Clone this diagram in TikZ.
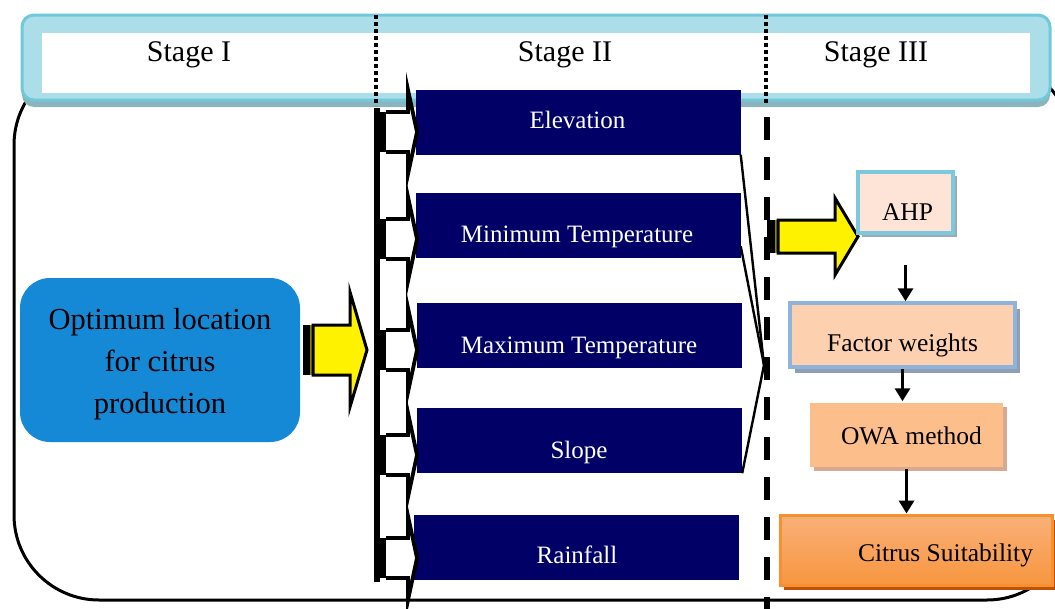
\documentclass[tikz,border=0pt]{standalone}
\usepackage{fontspec}
\setmainfont{Liberation Serif}
\usetikzlibrary{arrows.meta,calc,shadows}
\definecolor{navy}{HTML}{000066}
\definecolor{hdrfill}{HTML}{ABDEE8}
\definecolor{hdrline}{HTML}{70C9D9}
\definecolor{hdrshadow}{HTML}{8CB4BD}
\definecolor{optblue}{HTML}{1589D6}
\definecolor{ahpfill}{HTML}{FDE4D6}
\definecolor{ahpline}{HTML}{7CC8DC}
\definecolor{ahpshadow}{HTML}{9EA9B3}
\definecolor{fwfill}{HTML}{FDD0B0}
\definecolor{fwline}{HTML}{8FB4DC}
\definecolor{fwshadow}{HTML}{8E9FB5}
\definecolor{owafill}{HTML}{FCBF8C}
\definecolor{owashadow}{HTML}{D8A98E}
\definecolor{cstop}{HTML}{FAB07A}
\definecolor{csmid}{HTML}{F5821F}
\definecolor{csbot}{HTML}{F7963E}
\definecolor{csline}{HTML}{F7902E}
\definecolor{csshadow}{HTML}{C0500A}
\definecolor{olivebar}{HTML}{8A8A00}
\begin{document}
\begin{tikzpicture}[x=1pt,y=-1pt,
  stagetxt/.style={font=\fontsize{30}{34}\selectfont, inner sep=0pt, text height=19.5pt, text depth=0pt},
  navybox/.style={fill=navy, draw=none, minimum width=325pt, minimum height=65pt, inner sep=0pt},
  navytxt/.style={text=white, font=\fontsize{25}{29}\selectfont, inner sep=0pt, text height=16.5pt, text depth=0pt},
  sthreetxt/.style={font=\fontsize{25.5}{29}\selectfont, inner sep=0pt, text height=16.8pt, text depth=0pt},
  sbox/.style={inner sep=0pt, line width=3.5pt},
  flow/.style={line width=3.5pt, -{Triangle[width=15pt,length=13pt]}},
  hollow/.style={line width=3.8pt, fill=white, line join=miter},
  blockarrow/.style={line width=3pt, fill=yellow, line join=miter},
  conv/.style={line width=2.4pt}]
\useasboundingbox (0,0) rectangle (1055,608);
\clip (0,0) rectangle (1055,608);

% outer frame
\draw[line width=3pt, rounded corners=85pt] (14,60) rectangle (1072,600);

% header
\fill[hdrshadow, rounded corners=12pt] (22,22) rectangle (1050,107);
\draw[hdrline, fill=hdrfill, line width=3pt, rounded corners=12pt] (22,15) rectangle (1050,100);
\fill[white] (42,33) rectangle (1030,93);
\node[stagetxt] (s1) at (189,52) {Stage I};
\node[stagetxt] (s2) at (565,52) {Stage II};
\node[stagetxt] (s3) at (876,52) {Stage III};
\draw[line width=4.5pt, dash pattern=on 4pt off 3pt] (376,15) -- (376,106);
\draw[line width=4pt, dash pattern=on 4pt off 3pt] (766,15) -- (766,104);

% stage I
\node[fill=optblue, draw=none, rounded corners=30pt, minimum width=280pt, minimum height=164pt,
  inner sep=0pt] (opt) at (160,360) {};
\node[align=center, inner sep=0pt, font=\fontsize{30.5}{42}\selectfont] (optt) at (160,364)
  {Optimum location\\for citrus\\production};
\fill (303,325) rectangle (310,375);
\fill[olivebar] (310,325) rectangle (313,375);
\draw[blockarrow] (313,325) -- (350,325) -- (350,292) -- (367,350) -- (350,407) -- (350,375) -- (313,375) -- cycle;

% stage II boxes
\node[navybox] (elev) at (578,122) {};
\node[navybox] (mint) at (578,225.5) {};
\node[navybox] (maxt) at (579,335.5) {};
\node[navybox] (slope) at (579.5,440.5) {};
\node[navybox] (rain) at (576.5,547.5) {};
\node[navytxt] (elevt) at (577.5,120.5) {Elevation};
\node[navytxt] (mintt) at (577,234) {Minimum Temperature};
\node[navytxt] (maxtt) at (579,345) {Maximum Temperature};
\node[navytxt] (slopet) at (579,450) {Slope};
\node[navytxt] (raint) at (577,555) {Rainfall};

% bar and hollow arrows
\draw[line width=6pt] (377,108) -- (377,582);
\foreach \c in {132,239,350,455,558}{
  \fill (377,\c-20) rectangle (386,\c+20);
  \draw[hollow] (386,\c-20) -- (408,\c-20) -- (408,\c-42) -- (417,\c) -- (408,\c+42) -- (408,\c+20) -- (386,\c+20);
}

% converging lines
\coordinate (cv) at (764,365);
\draw[conv] (elev.south east) -- (cv);
\draw[conv] ($(mint.south east)+(0,-12)$) -- (cv);
\draw[conv] (slope.south east) -- (cv);

% heavy dashed separator
\draw[line width=6.5pt, dash pattern=on 23pt off 17pt] (767,117) -- (767,615);

% stage II -> III arrow
\fill (767,220) rectangle (775,253);
\fill[olivebar] (775,220) rectangle (778,253);
\draw[blockarrow] (778,220) -- (835,220) -- (835,198) -- (858,236.5) -- (835,275) -- (835,253) -- (778,253) -- cycle;

% stage III
\node[sbox, fill=ahpfill, draw=ahpline, minimum width=95pt, minimum height=61pt,
  drop shadow={fill=ahpshadow, opacity=1, shadow xshift=4pt, shadow yshift=-4pt}] (ahp) at (905.5,202.5) {};
\node[sthreetxt] (ahpt) at (907.5,212.5) {AHP};
\node[sbox, fill=fwfill, draw=fwline, minimum width=225pt, minimum height=64pt,
  drop shadow={fill=fwshadow, opacity=1, shadow xshift=5pt, shadow yshift=-6pt}] (fw) at (902.5,335) {};
\node[sthreetxt] (fwt) at (902.5,343.5) {Factor weights};
\node[sbox, fill=owafill, draw=none, minimum width=193pt, minimum height=64pt,
  drop shadow={fill=owashadow, opacity=1, shadow xshift=4pt, shadow yshift=-4pt}] (owa) at (906.5,435) {};
\node[sthreetxt] (owat) at (911.5,436.5) {OWA method};
\node[sbox, top color=cstop, middle color=csmid, bottom color=csbot, draw=csline, line width=3pt,
  minimum width=272pt, minimum height=70pt,
  drop shadow={fill=csshadow, opacity=1, shadow xshift=4pt, shadow yshift=-5pt}] (cs) at (916,550) {};
\node[sthreetxt] (cst) at (945.5,553.5) {Citrus Suitability};

\draw[flow] ($(ahp.south)+(0,30)$) -- (ahp.south |- fw.north);
\draw[flow] (fw.south) -- (fw.south |- owa.north);
\draw[flow] (owa.south) -- (owa.south |- cs.north);
\end{tikzpicture}
\end{document}
